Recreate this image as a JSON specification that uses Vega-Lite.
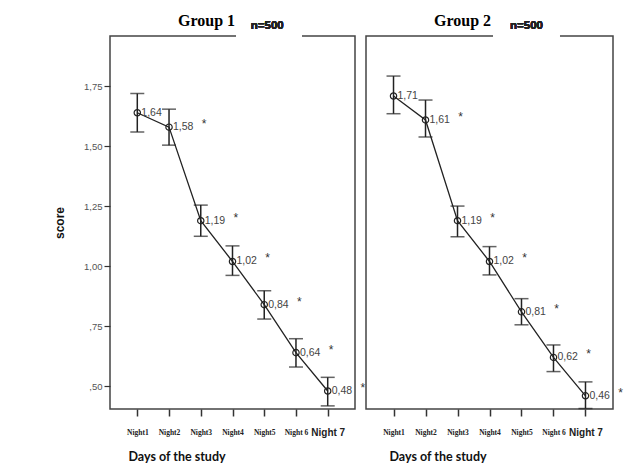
{
  "$schema": "https://vega.github.io/schema/vega-lite/v6.json",
  "background": "white",
  "padding": {"left": 52, "top": 12, "right": 0, "bottom": 0},
  "bounds": "flush",
  "spacing": 11,
  "config": {
    "view": {"stroke": "#444", "strokeWidth": 1.5},
    "axis": {"grid": false, "domain": false}
  },
  "datasets": {
    "d": [
      {"group": 1, "night": "Night1", "mean": 1.64, "lo": 1.56, "hi": 1.72, "star": false},
      {"group": 1, "night": "Night2", "mean": 1.58, "lo": 1.505, "hi": 1.655, "star": true},
      {"group": 1, "night": "Night3", "mean": 1.19, "lo": 1.125, "hi": 1.255, "star": true},
      {"group": 1, "night": "Night4", "mean": 1.02, "lo": 0.962, "hi": 1.085, "star": true},
      {"group": 1, "night": "Night5", "mean": 0.84, "lo": 0.78, "hi": 0.898, "star": true},
      {"group": 1, "night": "Night 6", "mean": 0.64, "lo": 0.58, "hi": 0.698, "star": true},
      {"group": 1, "night": "Night 7", "mean": 0.48, "lo": 0.418, "hi": 0.537, "star": true},
      {"group": 2, "night": "Night1", "mean": 1.71, "lo": 1.636, "hi": 1.793, "star": false},
      {"group": 2, "night": "Night2", "mean": 1.61, "lo": 1.539, "hi": 1.693, "star": true},
      {"group": 2, "night": "Night3", "mean": 1.19, "lo": 1.123, "hi": 1.251, "star": true},
      {"group": 2, "night": "Night4", "mean": 1.02, "lo": 0.964, "hi": 1.082, "star": true},
      {"group": 2, "night": "Night5", "mean": 0.81, "lo": 0.756, "hi": 0.865, "star": true},
      {"group": 2, "night": "Night 6", "mean": 0.62, "lo": 0.561, "hi": 0.672, "star": true},
      {"group": 2, "night": "Night 7", "mean": 0.46, "lo": 0.407, "hi": 0.518, "star": true}
    ]
  },
  "resolve": {"scale": {"x": "independent", "y": "independent"}},
  "hconcat": [
    {
      "width": 245,
      "height": 373,
      "data": {"name": "d"},
      "transform": [
        {"filter": "datum.group == 1"},
        {"calculate": "replace(format(datum.mean, '.2f'), '.', ',')", "as": "label"}
      ],
      "title": {
        "text": "Group 1",
        "anchor": "start",
        "frame": "group",
        "align": "left",
        "dx": 68,
        "font": "Liberation Serif",
        "fontSize": 16,
        "fontWeight": "bold",
        "color": "black",
        "offset": -9
      },
      "encoding": {
        "x": {
          "field": "night",
          "type": "ordinal",
          "sort": null,
          "scale": {"type": "point", "padding": 0.86},
          "axis": {
            "title": "Days of the study",
            "titleFont": "Lato",
            "titleFontSize": 12.5,
            "titleFontWeight": "bold",
            "titleColor": "#111",
            "titleX": 18,
            "titleY": 47,
            "titleAlign": "left",
            "titleBaseline": "middle",
            "labelAngle": 0,
            "labelBaseline": "middle",
            "labelPadding": 16,
            "labelColor": "#222",
            "labelFontWeight": "bold",
            "labelFont": {"condition": {"test": "datum.value == 'Night 7'", "value": "Liberation Sans"}, "value": "Liberation Serif"},
            "labelFontSize": {"condition": {"test": "datum.value == 'Night 7'", "value": 10}, "value": 7.5},
            "tickSize": 7,
            "tickWidth": 1.5,
            "tickColor": "#333"
          }
        }
      },
      "layer": [
        {
          "mark": {"type": "rule", "color": "#222", "strokeWidth": 1.5},
          "encoding": {
            "y": {
              "field": "lo",
              "type": "quantitative",
              "scale": {"domain": [0.405, 1.96], "nice": false, "zero": false},
              "axis": {
                "values": [0.5, 0.75, 1, 1.25, 1.5, 1.75],
                "labelExpr": "datum.value < 1 ? replace(format(datum.value, '.2f'), '0.', ',') : replace(format(datum.value, '.2f'), '.', ',')",
                "title": "score",
                "titleFont": "Liberation Sans",
                "titleFontSize": 12,
                "titleFontWeight": "bold",
                "titleColor": "#111",
                "titlePadding": 17,
                "labelFont": "Liberation Sans",
                "labelFontSize": 9.5,
                "labelColor": "#555",
                "labelPadding": 2,
                "tickSize": 6,
                "tickWidth": 1.2,
                "tickColor": "#333"
              }
            },
            "y2": {"field": "hi"}
          }
        },
        {
          "mark": {"type": "tick", "color": "#222", "size": 14, "thickness": 1.5},
          "encoding": {"y": {"field": "lo", "type": "quantitative"}}
        },
        {
          "mark": {"type": "tick", "color": "#222", "size": 14, "thickness": 1.5},
          "encoding": {"y": {"field": "hi", "type": "quantitative"}}
        },
        {
          "mark": {"type": "line", "color": "#222", "strokeWidth": 1.3},
          "encoding": {"y": {"field": "mean", "type": "quantitative"}}
        },
        {
          "mark": {"type": "point", "filled": false, "size": 40, "color": "#222", "strokeWidth": 1.2, "opacity": 1},
          "encoding": {"y": {"field": "mean", "type": "quantitative"}}
        },
        {
          "mark": {"type": "text", "align": "left", "baseline": "middle", "dx": 4, "font": "Liberation Sans", "fontSize": 10.5, "color": "#444"},
          "encoding": {"y": {"field": "mean", "type": "quantitative"}, "text": {"field": "label"}}
        },
        {
          "transform": [{"filter": "datum.star"}],
          "mark": {"type": "text", "align": "center", "baseline": "middle", "dx": 35, "dy": -3, "font": "Liberation Sans", "fontSize": 12, "color": "#333", "text": "*"},
          "encoding": {"y": {"field": "mean", "type": "quantitative"}}
        },
        {
          "mark": {"type": "rect", "color": "white", "xOffset": 4, "x2Offset": 6},
          "encoding": {"x": {"datum": "Night4"}, "x2": {"datum": "Night 6"}, "y": {"datum": 1.97}, "y2": {"datum": 1.95}}
        },
        {
          "mark": {"type": "text", "align": "center", "baseline": "middle", "dx": 3, "font": "Liberation Sans", "fontSize": 11.5, "fontWeight": "bold", "color": "#222", "text": "n=500"},
          "encoding": {"x": {"datum": "Night5"}, "y": {"datum": 2.002}}
        }
      ]
    },
    {
      "width": 247,
      "height": 373,
      "data": {"name": "d"},
      "transform": [
        {"filter": "datum.group == 2"},
        {"calculate": "replace(format(datum.mean, '.2f'), '.', ',')", "as": "label"}
      ],
      "title": {
        "text": "Group 2",
        "anchor": "start",
        "frame": "group",
        "align": "left",
        "dx": 68,
        "font": "Liberation Serif",
        "fontSize": 16,
        "fontWeight": "bold",
        "color": "black",
        "offset": -9
      },
      "encoding": {
        "x": {
          "field": "night",
          "type": "ordinal",
          "sort": null,
          "scale": {"type": "point", "padding": 0.86},
          "axis": {
            "title": "Days of the study",
            "titleFont": "Lato",
            "titleFontSize": 12.5,
            "titleFontWeight": "bold",
            "titleColor": "#111",
            "titleX": 23,
            "titleY": 47,
            "titleAlign": "left",
            "titleBaseline": "middle",
            "labelAngle": 0,
            "labelBaseline": "middle",
            "labelPadding": 16,
            "labelColor": "#222",
            "labelFontWeight": "bold",
            "labelFont": {"condition": {"test": "datum.value == 'Night 7'", "value": "Liberation Sans"}, "value": "Liberation Serif"},
            "labelFontSize": {"condition": {"test": "datum.value == 'Night 7'", "value": 10}, "value": 7.5},
            "tickSize": 7,
            "tickWidth": 1.5,
            "tickColor": "#333"
          }
        }
      },
      "layer": [
        {
          "mark": {"type": "rule", "color": "#222", "strokeWidth": 1.5},
          "encoding": {
            "y": {
              "field": "lo",
              "type": "quantitative",
              "scale": {"domain": [0.405, 1.96], "nice": false, "zero": false},
              "axis": null
            },
            "y2": {"field": "hi"}
          }
        },
        {
          "mark": {"type": "tick", "color": "#222", "size": 14, "thickness": 1.5},
          "encoding": {"y": {"field": "lo", "type": "quantitative"}}
        },
        {
          "mark": {"type": "tick", "color": "#222", "size": 14, "thickness": 1.5},
          "encoding": {"y": {"field": "hi", "type": "quantitative"}}
        },
        {
          "mark": {"type": "line", "color": "#222", "strokeWidth": 1.3},
          "encoding": {"y": {"field": "mean", "type": "quantitative"}}
        },
        {
          "mark": {"type": "point", "filled": false, "size": 40, "color": "#222", "strokeWidth": 1.2, "opacity": 1},
          "encoding": {"y": {"field": "mean", "type": "quantitative"}}
        },
        {
          "mark": {"type": "text", "align": "left", "baseline": "middle", "dx": 4, "font": "Liberation Sans", "fontSize": 10.5, "color": "#444"},
          "encoding": {"y": {"field": "mean", "type": "quantitative"}, "text": {"field": "label"}}
        },
        {
          "transform": [{"filter": "datum.star"}],
          "mark": {"type": "text", "align": "center", "baseline": "middle", "dx": 35, "dy": -3, "font": "Liberation Sans", "fontSize": 12, "color": "#333", "text": "*"},
          "encoding": {"y": {"field": "mean", "type": "quantitative"}}
        },
        {
          "mark": {"type": "rect", "color": "white", "xOffset": 4, "x2Offset": 6},
          "encoding": {"x": {"datum": "Night4"}, "x2": {"datum": "Night 6"}, "y": {"datum": 1.97}, "y2": {"datum": 1.95}}
        },
        {
          "mark": {"type": "text", "align": "center", "baseline": "middle", "dx": 5, "font": "Liberation Sans", "fontSize": 11.5, "fontWeight": "bold", "color": "#222", "text": "n=500"},
          "encoding": {"x": {"datum": "Night5"}, "y": {"datum": 2.002}}
        }
      ]
    }
  ]
}
